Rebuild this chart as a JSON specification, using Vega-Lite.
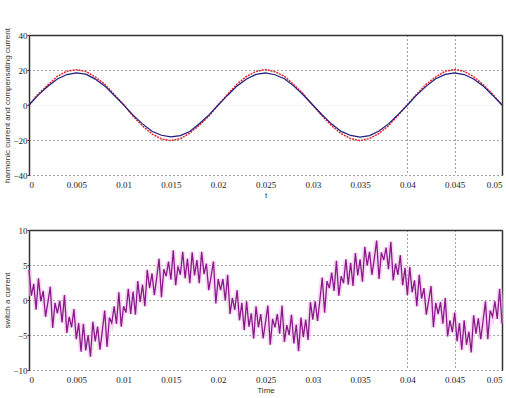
{
"$schema": "https://vega.github.io/schema/vega-lite/v6.json",
"background": "white",
"padding": {"left": 3, "top": 27, "right": 0, "bottom": 0},
"config": {
  "view": {"stroke": null},
  "axis": {"labelFont": "Liberation Serif", "labelFontSize": 9, "labelColor": "#222", "titleFont": "Liberation Sans", "titleFontSize": 8, "titleFontWeight": "normal", "titleColor": "#333", "tickColor": "#333", "domainColor": "#333", "domainWidth": 1.5, "gridDash": [1, 3], "gridOpacity": 1, "gridWidth": 1},
  "concat": {"spacing": 27}
},
"datasets": {
  "top": [
    {"t":0,"ref":0.0,"comp":0.0},{"t":0.001,"ref":6.4,"comp":5.8},{"t":0.002,"ref":11.5,"comp":10.7},{"t":0.003,"ref":16.4,"comp":14.9},{"t":0.004,"ref":19.3,"comp":17.4},
    {"t":0.005,"ref":20.2,"comp":18.3},{"t":0.006,"ref":19.2,"comp":17.6},{"t":0.007,"ref":16.0,"comp":14.8},{"t":0.008,"ref":12.0,"comp":10.9},{"t":0.009,"ref":6.0,"comp":5.6},
    {"t":0.01,"ref":0.3,"comp":0.1},{"t":0.011,"ref":-6.4,"comp":-5.8},{"t":0.012,"ref":-12.0,"comp":-10.8},{"t":0.013,"ref":-16.5,"comp":-15.0},{"t":0.014,"ref":-19.4,"comp":-17.3},
    {"t":0.015,"ref":-20.3,"comp":-18.2},{"t":0.016,"ref":-19.3,"comp":-17.5},{"t":0.017,"ref":-16.0,"comp":-15.1},{"t":0.018,"ref":-11.6,"comp":-10.7},{"t":0.019,"ref":-6.4,"comp":-5.8},
    {"t":0.02,"ref":0.0,"comp":0.0},{"t":0.021,"ref":6.1,"comp":5.6},{"t":0.022,"ref":12.0,"comp":10.9},{"t":0.023,"ref":16.3,"comp":14.9},{"t":0.024,"ref":19.2,"comp":17.5},
    {"t":0.025,"ref":20.3,"comp":18.4},{"t":0.026,"ref":19.0,"comp":17.3},{"t":0.027,"ref":16.4,"comp":15.0},{"t":0.028,"ref":11.6,"comp":10.8},{"t":0.029,"ref":6.3,"comp":5.7},
    {"t":0.03,"ref":-0.2,"comp":0.0},{"t":0.031,"ref":-6.3,"comp":-5.7},{"t":0.032,"ref":-11.9,"comp":-10.9},{"t":0.033,"ref":-16.4,"comp":-15.1},{"t":0.034,"ref":-19.2,"comp":-17.4},
    {"t":0.035,"ref":-20.4,"comp":-18.3},{"t":0.036,"ref":-19.1,"comp":-17.5},{"t":0.037,"ref":-16.3,"comp":-14.9},{"t":0.038,"ref":-11.8,"comp":-10.8},{"t":0.039,"ref":-6.0,"comp":-5.6},
    {"t":0.04,"ref":0.1,"comp":0.0},{"t":0.041,"ref":6.3,"comp":5.8},{"t":0.042,"ref":11.9,"comp":10.8},{"t":0.043,"ref":16.1,"comp":15.0},{"t":0.044,"ref":19.3,"comp":17.5},
    {"t":0.045,"ref":20.3,"comp":18.4},{"t":0.046,"ref":19.2,"comp":17.4},{"t":0.047,"ref":16.2,"comp":14.9},{"t":0.048,"ref":11.7,"comp":10.9},{"t":0.049,"ref":6.3,"comp":5.6},
    {"t":0.05,"ref":0.0,"comp":0.0}
  ],
  "bot": [
    {"t":0,"v":4.3},{"t":0.00025,"v":0.6},{"t":0.0005,"v":2.3},{"t":0.00075,"v":-1.4},{"t":0.001,"v":3.1},{"t":0.00125,"v":-0.2},{"t":0.0015,"v":1.3},{"t":0.00175,"v":-2.4},
    {"t":0.002,"v":-0.3},{"t":0.00225,"v":1.9},{"t":0.0025,"v":-4.0},{"t":0.00275,"v":-0.4},{"t":0.003,"v":-1.9},{"t":0.00325,"v":-0.1},{"t":0.0035,"v":-3.2},{"t":0.00375,"v":0.7},
    {"t":0.004,"v":-4.7},{"t":0.00425,"v":-2.4},{"t":0.0045,"v":-3.9},{"t":0.00475,"v":-1.3},{"t":0.005,"v":-5.6},{"t":0.00525,"v":-3.3},{"t":0.0055,"v":-7.4},{"t":0.00575,"v":-3.4},
    {"t":0.006,"v":-7.2},{"t":0.00625,"v":-5.0},{"t":0.0065,"v":-8.1},{"t":0.00675,"v":-3.1},{"t":0.007,"v":-5.9},{"t":0.00725,"v":-3.8},{"t":0.0075,"v":-7.1},{"t":0.00775,"v":-4.4},
    {"t":0.008,"v":-1.5},{"t":0.00825,"v":-6.7},{"t":0.0085,"v":-2.5},{"t":0.00875,"v":-3.3},{"t":0.009,"v":-0.9},{"t":0.00925,"v":-3.4},{"t":0.0095,"v":1.1},{"t":0.00975,"v":-3.8},
    {"t":0.01,"v":-0.9},{"t":0.01025,"v":-1.8},{"t":0.0105,"v":1.6},{"t":0.01075,"v":-2.0},{"t":0.011,"v":1.2},{"t":0.01125,"v":-2.1},{"t":0.0115,"v":2.7},{"t":0.01175,"v":-0.3},
    {"t":0.012,"v":2.2},{"t":0.01225,"v":-0.9},{"t":0.0125,"v":4.3},{"t":0.01275,"v":1.7},{"t":0.013,"v":3.8},{"t":0.01325,"v":0.7},{"t":0.0135,"v":3.2},{"t":0.01375,"v":5.9},
    {"t":0.014,"v":0.4},{"t":0.01425,"v":4.4},{"t":0.0145,"v":3.4},{"t":0.01475,"v":5.5},{"t":0.015,"v":2.9},{"t":0.01525,"v":7.1},{"t":0.0155,"v":2.1},{"t":0.01575,"v":4.8},
    {"t":0.016,"v":3.6},{"t":0.01625,"v":6.9},{"t":0.0165,"v":3.1},{"t":0.01675,"v":5.9},{"t":0.017,"v":2.4},{"t":0.01725,"v":6.8},{"t":0.0175,"v":3.5},{"t":0.01775,"v":5.7},
    {"t":0.018,"v":2.4},{"t":0.01825,"v":6.9},{"t":0.0185,"v":3.7},{"t":0.01875,"v":5.2},{"t":0.019,"v":1.4},{"t":0.01925,"v":3.4},{"t":0.0195,"v":5.5},{"t":0.01975,"v":-0.5},
    {"t":0.02,"v":3.0},{"t":0.02025,"v":1.4},{"t":0.0205,"v":3.0},{"t":0.02075,"v":-0.1},{"t":0.021,"v":3.6},{"t":0.02125,"v":-2.0},{"t":0.0215,"v":0.3},{"t":0.02175,"v":-1.4},
    {"t":0.022,"v":1.4},{"t":0.02225,"v":-2.9},{"t":0.0225,"v":-0.4},{"t":0.02275,"v":-4.3},{"t":0.023,"v":-0.2},{"t":0.02325,"v":-3.8},{"t":0.0235,"v":-1.9},{"t":0.02375,"v":-5.5},
    {"t":0.024,"v":-0.9},{"t":0.02425,"v":-3.9},{"t":0.0245,"v":-2.0},{"t":0.02475,"v":-5.5},{"t":0.025,"v":-3.2},{"t":0.02525,"v":-0.8},{"t":0.0255,"v":-6.4},{"t":0.02575,"v":-2.7},
    {"t":0.026,"v":-3.9},{"t":0.02625,"v":-2.0},{"t":0.0265,"v":-4.8},{"t":0.02675,"v":-0.8},{"t":0.027,"v":-6.0},{"t":0.02725,"v":-3.6},{"t":0.0275,"v":-5.0},{"t":0.02775,"v":-2.1},
    {"t":0.028,"v":-6.2},{"t":0.02825,"v":-3.5},{"t":0.0285,"v":-7.3},{"t":0.02875,"v":-2.5},{"t":0.029,"v":-5.3},{"t":0.02925,"v":-2.8},{"t":0.0295,"v":-5.7},{"t":0.02975,"v":-0.3},
    {"t":0.03,"v":-2.8},{"t":0.03025,"v":-0.2},{"t":0.0305,"v":-3.0},{"t":0.03075,"v":0.0},{"t":0.031,"v":3.2},{"t":0.03125,"v":-1.8},{"t":0.0315,"v":2.7},{"t":0.03175,"v":1.7},
    {"t":0.032,"v":3.9},{"t":0.03225,"v":1.3},{"t":0.0325,"v":5.6},{"t":0.03275,"v":0.6},{"t":0.033,"v":3.4},{"t":0.03325,"v":2.4},{"t":0.0335,"v":5.8},{"t":0.03375,"v":2.2},
    {"t":0.034,"v":5.3},{"t":0.03425,"v":2.0},{"t":0.0345,"v":6.7},{"t":0.03475,"v":3.5},{"t":0.035,"v":5.8},{"t":0.03525,"v":2.6},{"t":0.0355,"v":7.6},{"t":0.03575,"v":4.9},
    {"t":0.036,"v":6.9},{"t":0.03625,"v":3.6},{"t":0.0365,"v":5.9},{"t":0.03675,"v":8.5},{"t":0.037,"v":3.0},{"t":0.03725,"v":6.8},{"t":0.0375,"v":5.7},{"t":0.03775,"v":7.5},
    {"t":0.038,"v":4.4},{"t":0.03825,"v":8.3},{"t":0.0385,"v":2.8},{"t":0.03875,"v":5.2},{"t":0.039,"v":3.6},{"t":0.03925,"v":6.4},{"t":0.0395,"v":2.1},{"t":0.03975,"v":4.6},
    {"t":0.04,"v":0.7},{"t":0.04025,"v":4.7},{"t":0.0405,"v":1.1},{"t":0.04075,"v":2.8},{"t":0.041,"v":-0.9},{"t":0.04125,"v":3.6},{"t":0.0415,"v":0.2},{"t":0.04175,"v":1.7},
    {"t":0.042,"v":-2.1},{"t":0.04225,"v":-0.1},{"t":0.0425,"v":2.0},{"t":0.04275,"v":-3.9},{"t":0.043,"v":-0.4},{"t":0.04325,"v":-2.0},{"t":0.0435,"v":-0.3},{"t":0.04375,"v":-3.4},
    {"t":0.044,"v":0.3},{"t":0.04425,"v":-5.2},{"t":0.0445,"v":-2.9},{"t":0.04475,"v":-4.6},{"t":0.045,"v":-1.8},{"t":0.04525,"v":-5.9},{"t":0.0455,"v":-3.3},{"t":0.04575,"v":-7.1},
    {"t":0.046,"v":-2.9},{"t":0.04625,"v":-6.4},{"t":0.0465,"v":-4.5},{"t":0.04675,"v":-7.5},{"t":0.047,"v":-2.2},{"t":0.04725,"v":-4.8},{"t":0.0475,"v":-2.6},{"t":0.04775,"v":-5.6},
    {"t":0.048,"v":-3.0},{"t":0.04825,"v":-0.2},{"t":0.0485,"v":-5.6},{"t":0.04875,"v":-1.5},{"t":0.049,"v":-2.4},{"t":0.04925,"v":-0.2},{"t":0.0495,"v":-2.7},{"t":0.04975,"v":1.6},
    {"t":0.05,"v":-3.4}
  ]
},
"vconcat": [
  {
    "width": 473, "height": 140,
    "data": {"name": "top"},
    "layer": [
      {
        "mark": {"type": "line", "color": "#e3242b", "strokeWidth": 1.5, "strokeDash": [2, 1]},
        "encoding": {
          "x": {"field": "t", "type": "quantitative", "scale": {"domain": [0, 0.05], "nice": false},
            "axis": {"values": [0,0.005,0.01,0.015,0.02,0.025,0.03,0.035,0.04,0.045,0.05], "labelExpr": "'' + datum.value", "title": "t", "domain": false, "ticks": false, "labelPadding": 5, "titlePadding": 2, "grid": true,
              "gridColor": {"condition": {"test": "datum.value > 0.039 && datum.value < 0.046", "value": "#444"}, "value": "transparent"}}},
          "y": {"field": "ref", "type": "quantitative", "scale": {"domain": [-40, 40], "nice": false},
            "axis": {"values": [-40,-20,0,20,40], "title": "harmonic current and compensating current", "tickSize": 2, "labelPadding": 0, "titlePadding": 1, "grid": true,
              "gridColor": {"condition": {"test": "datum.value == 0", "value": "#d8d8d8"}, "value": "#444"}}}
        }
      },
      {
        "mark": {"type": "line", "color": "#1c1c80", "strokeWidth": 1.2},
        "encoding": {
          "x": {"field": "t", "type": "quantitative", "axis": {"orient": "top", "labels": false, "ticks": false, "grid": false, "title": null, "domain": true}},
          "y": {"field": "comp", "type": "quantitative", "axis": {"orient": "right", "labels": false, "ticks": false, "grid": false, "title": null, "domain": true}}
        }
      }
    ],
    "resolve": {"axis": {"x": "independent", "y": "independent"}}
  },
  {
    "width": 473, "height": 140,
    "data": {"name": "bot"},
    "layer": [
      {
        "mark": {"type": "line", "color": "#f3c2ef", "strokeWidth": 5, "opacity": 0.6},
        "encoding": {
          "x": {"field": "t", "type": "quantitative", "scale": {"domain": [0, 0.05], "nice": false},
            "axis": {"values": [0,0.005,0.01,0.015,0.02,0.025,0.03,0.035,0.04,0.045,0.05], "labelExpr": "'' + datum.value", "title": "Time", "domain": false, "ticks": false, "labelPadding": 5, "titlePadding": 2, "grid": true,
              "gridColor": {"condition": {"test": "datum.value > 0.039 && datum.value < 0.046", "value": "#444"}, "value": "transparent"}}},
          "y": {"field": "v", "type": "quantitative", "scale": {"domain": [-10, 10], "nice": false},
            "axis": {"values": [-10,-5,0,5,10], "title": "switch a current", "tickSize": 2, "labelPadding": 0, "titlePadding": 1, "grid": true, "gridColor": "#444"}}
        }
      },
      {
        "mark": {"type": "line", "color": "#8a1a8a", "strokeWidth": 1.3},
        "encoding": {
          "x": {"field": "t", "type": "quantitative", "axis": {"orient": "top", "labels": false, "ticks": false, "grid": false, "title": null, "domain": true}},
          "y": {"field": "v", "type": "quantitative", "axis": {"orient": "right", "labels": false, "ticks": false, "grid": false, "title": null, "domain": true}}
        }
      }
    ],
    "resolve": {"axis": {"x": "independent", "y": "independent"}}
  }
]
}
